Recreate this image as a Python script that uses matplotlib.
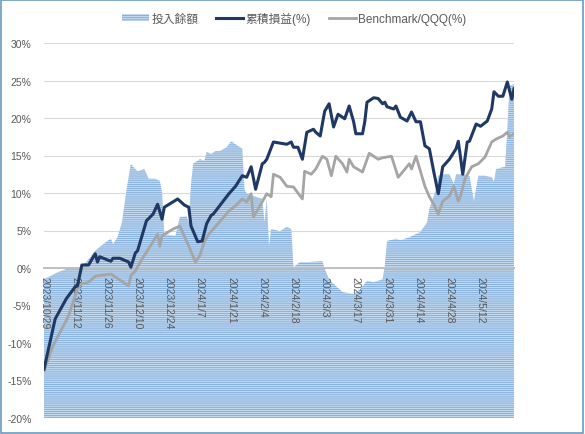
import matplotlib
matplotlib.use('Agg')
import matplotlib.pyplot as plt
from matplotlib.patches import Patch, Rectangle
from matplotlib.lines import Line2D

matplotlib.rcParams['hatch.linewidth'] = 0.55

# days since 2023/10/29
tick_days = [0, 14, 28, 42, 56, 70, 84, 98, 112, 126, 140, 154, 168, 182, 196]
tick_labels = ['2023/10/29', '2023/11/12', '2023/11/26', '2023/12/10', '2023/12/24',
               '2024/1/7', '2024/1/21', '2024/2/4', '2024/2/18', '2024/3/3',
               '2024/3/17', '2024/3/31', '2024/4/14', '2024/4/28', '2024/5/12']

# 投入餘額 (hidden secondary scale, read in chart units)
bal_days = [0, 6, 12, 15, 19, 23, 25, 28, 30, 31, 33, 35, 37, 39, 40, 42, 45, 47, 50,
            52, 53, 54, 59, 61, 64, 65, 66, 67, 70, 72, 73, 75, 77, 79, 82, 84, 86, 89,
            90, 91, 98, 99, 100, 101, 102, 106, 109, 111, 112, 115, 119, 125, 126, 128,
            131, 134, 139, 142, 145, 148, 152, 153, 154, 158, 160, 164, 169, 172, 173,
            176, 177, 179, 182, 184, 185, 188, 191, 193, 195, 198, 201, 202, 203, 207,
            208, 209, 211]
bal_vals = [-1.5, -0.6, 0.1, -0.1, 0.8, 2.3, 2.8, 3.5, 3.9, 3.2, 4.1, 6.1, 10.3, 13.9,
            13.5, 12.9, 13.2, 11.9, 11.9, 11.6, 10.0, 4.5, 4.3, 6.8, 6.9, 6.1, 11.2, 13.9,
            14.5, 14.3, 15.5, 15.2, 15.6, 15.6, 16.1, 16.9, 16.5, 15.9, 10.5, 9.9, 9.2,
            6.1, 9.2, 2.9, 5.2, 4.9, 5.5, 5.2, 0.1, 0.8, 0.8, 0.9, -0.1, -1.5, -2.4, -3.2,
            -3.5, -2.8, -1.7, -1.9, -1.5, 0.3, 3.6, 3.9, 3.7, 4.1, 4.8, 6.1, 7.9, 10.5,
            12.3, 12.5, 12.5, 11.2, 12.5, 12.5, 12.3, 8.9, 12.3, 12.3, 12.1, 11.5, 13.2,
            13.5, 18.3, 24.3, 24.5]

# 累積損益(%)
pnl_days = [0, 5, 10, 14, 15, 17, 20, 23, 24, 25, 30, 31, 34, 38, 39, 41, 42, 46, 49,
            51, 53, 54, 60, 63, 65, 66, 69, 71, 73, 75, 76, 83, 86, 89, 91, 93, 95, 98,
            99, 100, 103, 109, 111, 112, 114, 116, 118, 121, 122, 124, 126, 128, 130,
            132, 135, 137, 139, 140, 143, 144, 145, 148, 150, 152, 153, 154, 157, 158,
            160, 163, 165, 167, 169, 171, 173, 175, 177, 179, 182, 185, 186, 188, 190,
            191, 194, 196, 199, 201, 202, 204, 206, 208, 210, 211]
pnl_vals = [-13.5, -6.8, -4.1, -2.5, -2.4, 0.4, 0.4, 1.9, 0.8, 1.5, 0.9, 1.3, 1.3, 0.8,
            0.1, 2.0, 2.3, 6.3, 7.2, 8.5, 6.5, 8.1, 9.2, 8.4, 8.1, 5.6, 3.5, 3.6, 5.9,
            7.0, 7.2, 9.9, 10.9, 12.3, 12.1, 13.5, 10.5, 13.9, 14.1, 14.5, 16.8, 16.5,
            16.8, 16.1, 16.1, 14.5, 18.1, 18.5, 18.1, 17.6, 20.9, 21.9, 18.8, 20.5, 19.9,
            21.6, 19.5, 17.9, 17.9, 19.5, 22.1, 22.7, 22.6, 21.9, 22.1, 21.5, 21.2, 21.6,
            20.1, 19.6, 20.8, 19.5, 19.5, 16.3, 15.9, 12.8, 9.9, 13.5, 14.5, 15.9, 16.9,
            12.5, 16.8, 16.9, 19.2, 18.9, 19.6, 21.2, 23.5, 22.9, 22.9, 24.8, 22.5, 23.9]

# Benchmark/QQQ(%)
qqq_days = [0, 4, 11, 15, 17, 20, 23, 30, 32, 38, 39, 41, 44, 46, 51, 52, 53, 58, 61,
            65, 68, 70, 72, 74, 83, 86, 89, 91, 93, 94, 97, 100, 102, 103, 106, 109, 112,
            116, 117, 120, 122, 125, 127, 129, 131, 134, 136, 137, 139, 143, 146, 150,
            152, 156, 159, 161, 164, 165, 167, 169, 171, 173, 175, 177, 179, 182, 184,
            186, 187, 189, 192, 195, 198, 201, 203, 206, 208, 209, 211]
qqq_vals = [-13.7, -10.4, -6.4, -2.8, -2.1, -1.9, -1.1, -0.8, -1.2, -2.4, -1.0, -0.4,
            1.2, 2.1, 4.5, 2.9, 4.3, 5.2, 5.6, 2.9, 0.8, 1.7, 3.5, 4.5, 7.6, 8.3, 9.2,
            8.8, 9.9, 6.8, 8.3, 9.9, 9.5, 12.5, 12.1, 10.9, 10.8, 9.2, 12.9, 12.5, 13.2,
            14.9, 14.5, 12.3, 14.9, 13.9, 12.8, 14.5, 13.5, 12.8, 15.3, 14.5, 14.7, 14.9,
            12.1, 12.8, 13.9, 13.2, 14.9, 12.9, 10.9, 9.5, 8.5, 7.2, 8.9, 9.6, 10.9, 8.9,
            9.6, 11.9, 13.5, 13.9, 14.8, 16.8, 17.2, 17.6, 18.1, 17.5, 17.9]

y_ticks = [-20, -15, -10, -5, 0, 5, 10, 15, 20, 25, 30]

fig = plt.figure(figsize=(5.85, 4.35), dpi=100)
ax = fig.add_axes([44 / 585, 1 - 419 / 435, 470 / 585, 375 / 435])

for v in y_ticks:
    ax.axhline(v, color='#d9d9d9', lw=0.8, zorder=0.5)

ax.fill_between(bal_days, -20, bal_vals, facecolor='#c2d9f0', edgecolor='#78a6d6',
                hatch='-' * 8, linewidth=0, zorder=1)
ax.plot(qqq_days, qqq_vals, color='#a5a5a5', lw=2.0, zorder=3, solid_joinstyle='round')
ax.plot(pnl_days, pnl_vals, color='#203864', lw=2.2, zorder=4, solid_joinstyle='round')

ax.set_xlim(0, 211)
ax.set_ylim(-20, 30)
ax.set_yticks(y_ticks)
ax.set_yticklabels([f'{v}%' for v in y_ticks])
ax.set_xticks(tick_days)
ax.set_xticklabels(tick_labels)

for s in ['top', 'right', 'left']:
    ax.spines[s].set_visible(False)
ax.spines['bottom'].set_position(('data', 0))
ax.spines['bottom'].set_color('#bfbfbf')
ax.spines['bottom'].set_linewidth(1.4)
ax.spines['bottom'].set_zorder(2)
ax.tick_params(length=0, labelsize=7.5, labelcolor='#595959')
ax.tick_params(axis='y', pad=9)
ax.tick_params(axis='x', pad=6, labelrotation=-90)
for lbl in ax.get_xticklabels():
    lbl.set_family('Liberation Sans')
    lbl.set_va('top')
    lbl.set_ha('center')
for lbl in ax.get_yticklabels():
    lbl.set_family('Liberation Sans')

handles = [
    Patch(facecolor='#c2d9f0', edgecolor='#78a6d6', hatch='-' * 8, linewidth=0),
    Line2D([], [], color='#203864', lw=2.2),
    Line2D([], [], color='#a5a5a5', lw=2.0),
]
fig.legend(handles, ['投入餘額', '累積損益(%)', 'Benchmark/QQQ(%)'],
           loc='center', bbox_to_anchor=(294 / 585, 1 - 19 / 435), ncol=3,
           frameon=False, handlelength=2.3, handleheight=0.5, handletextpad=0.2,
           columnspacing=1.5,
           prop={'family': ['Liberation Sans', 'Noto Sans CJK TC'], 'size': 8.5},
           labelcolor='#595959')

fig.add_artist(Rectangle((0.002, 0.003), 0.995, 0.994, transform=fig.transFigure,
                         fill=False, edgecolor='#6a9bc0', lw=1.2))

fig.savefig('out.png', dpi=100)
